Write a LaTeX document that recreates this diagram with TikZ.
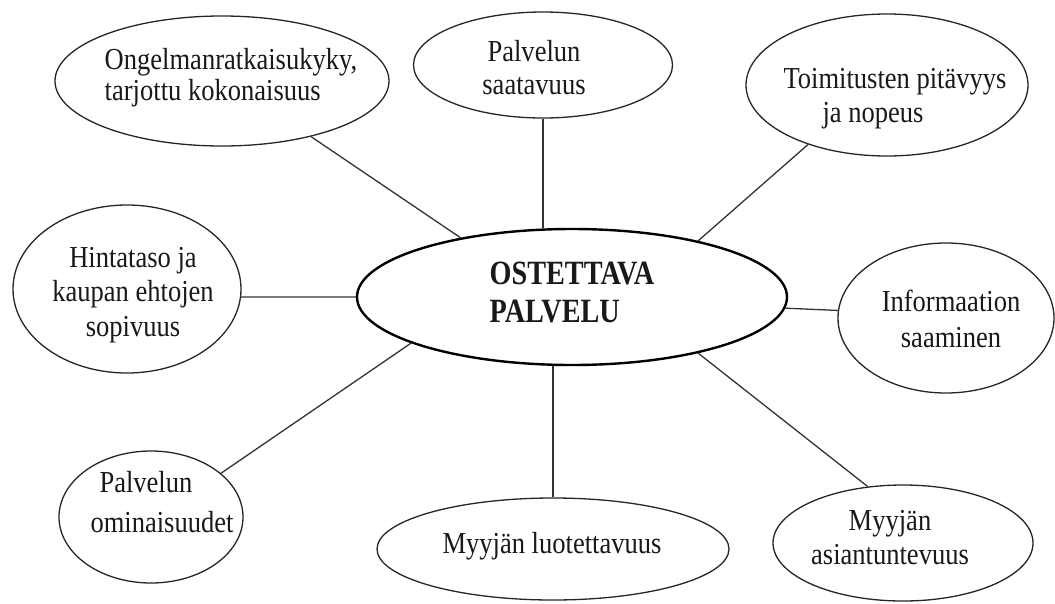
\documentclass[tikz,border=0pt]{standalone}
\usepackage{fontspec}
\setmainfont{Liberation Serif}
\newfontfamily\lblfont[FakeStretch=0.87]{Liberation Serif}
\newfontfamily\cenfont[FakeStretch=0.83]{Liberation Serif}
\usetikzlibrary{shapes.geometric}
\begin{document}
\begin{tikzpicture}[x=1pt,y=-1pt,
  bub/.style={draw=black!85, line width=1.3pt, ellipse, inner sep=0pt},
  lbl/.style={font=\lblfont\fontsize{30.5}{34}\selectfont, inner sep=0pt, align=center, text=black!90},
  link/.style={draw=black!80, line width=1.3pt}]
\fill[white] (0,0) rectangle (1055,603);
\useasboundingbox (0,0) rectangle (1055,603);
% ellipses
\node[bub, minimum width=334pt, minimum height=130pt] (tl) at (222,81) {};
\node[bub, minimum width=259pt, minimum height=106pt] (tm) at (543,65) {};
\node[bub, minimum width=282pt, minimum height=142pt] (tr) at (887,85) {};
\node[bub, minimum width=228pt, minimum height=168pt] (l) at (127,289) {};
\node[bub, minimum width=216pt, minimum height=150pt] (r) at (946,318) {};
\node[bub, minimum width=184pt, minimum height=132pt] (bl) at (151,517) {};
\node[bub, minimum width=352pt, minimum height=102pt] (bm) at (553,549) {};
\node[bub, minimum width=260pt, minimum height=116pt] (br) at (903,543) {};
\node[bub, line width=2.4pt, draw=black, minimum width=430pt, minimum height=136pt] (c) at (572,297) {};
% labels
\node[lbl, align=left, font=\lblfont\fontsize{30.5}{31}\selectfont] (tlt) at (231,77.5) {Ongelmanratkaisukyky,\\tarjottu kokonaisuus};
\node[lbl, font=\lblfont\fontsize{30.5}{33}\selectfont] (tmt) at (534,68) {Palvelun\\saatavuus};
\node[lbl, align=left] (trt) at (895,99) {Toimitusten pitävyys\\\hspace*{39pt}ja nopeus};
\node[lbl, font=\lblfont\fontsize{30.5}{34.5}\selectfont] (lt) at (133,295) {Hintataso ja\\kaupan ehtojen\\sopivuus};
\node[lbl, font=\lblfont\fontsize{30.5}{36}\selectfont] (rt) at (951,318.5) {Informaation\\saaminen};
\node[lbl, align=left, font=\lblfont\fontsize{30.5}{40}\selectfont] (blt) at (162,502.5) {\hspace*{9pt}Palvelun\\ominaisuudet};
\node[lbl] (bmt) at (552,546) {Myyjän luotettavuus};
\node[lbl] (brt) at (890,537.5) {Myyjän\\asiantuntevuus};
\node[lbl, align=left, font=\cenfont\bfseries\fontsize{34}{38}\selectfont] (ct) at (572,292.5) {OSTETTAVA\\PALVELU};
% connectors
\draw[link] (tl.-32.6) -- (c.152.2);
\draw[link] (tm.south) -- (tm.south |- c.north);
\draw[link] (tr.217.1) -- (c.24.3);
\draw[link] (l.-4.5) -- (c.180);
\draw[link] (r.176.3) -- (c.-3.7);
\draw[link] (bl.32) -- (c.196);
\draw[link] (bm.north) -- (bm.north |- c.south);
\draw[link] (br.122.7) -- (c.336.1);
\end{tikzpicture}
\end{document}
